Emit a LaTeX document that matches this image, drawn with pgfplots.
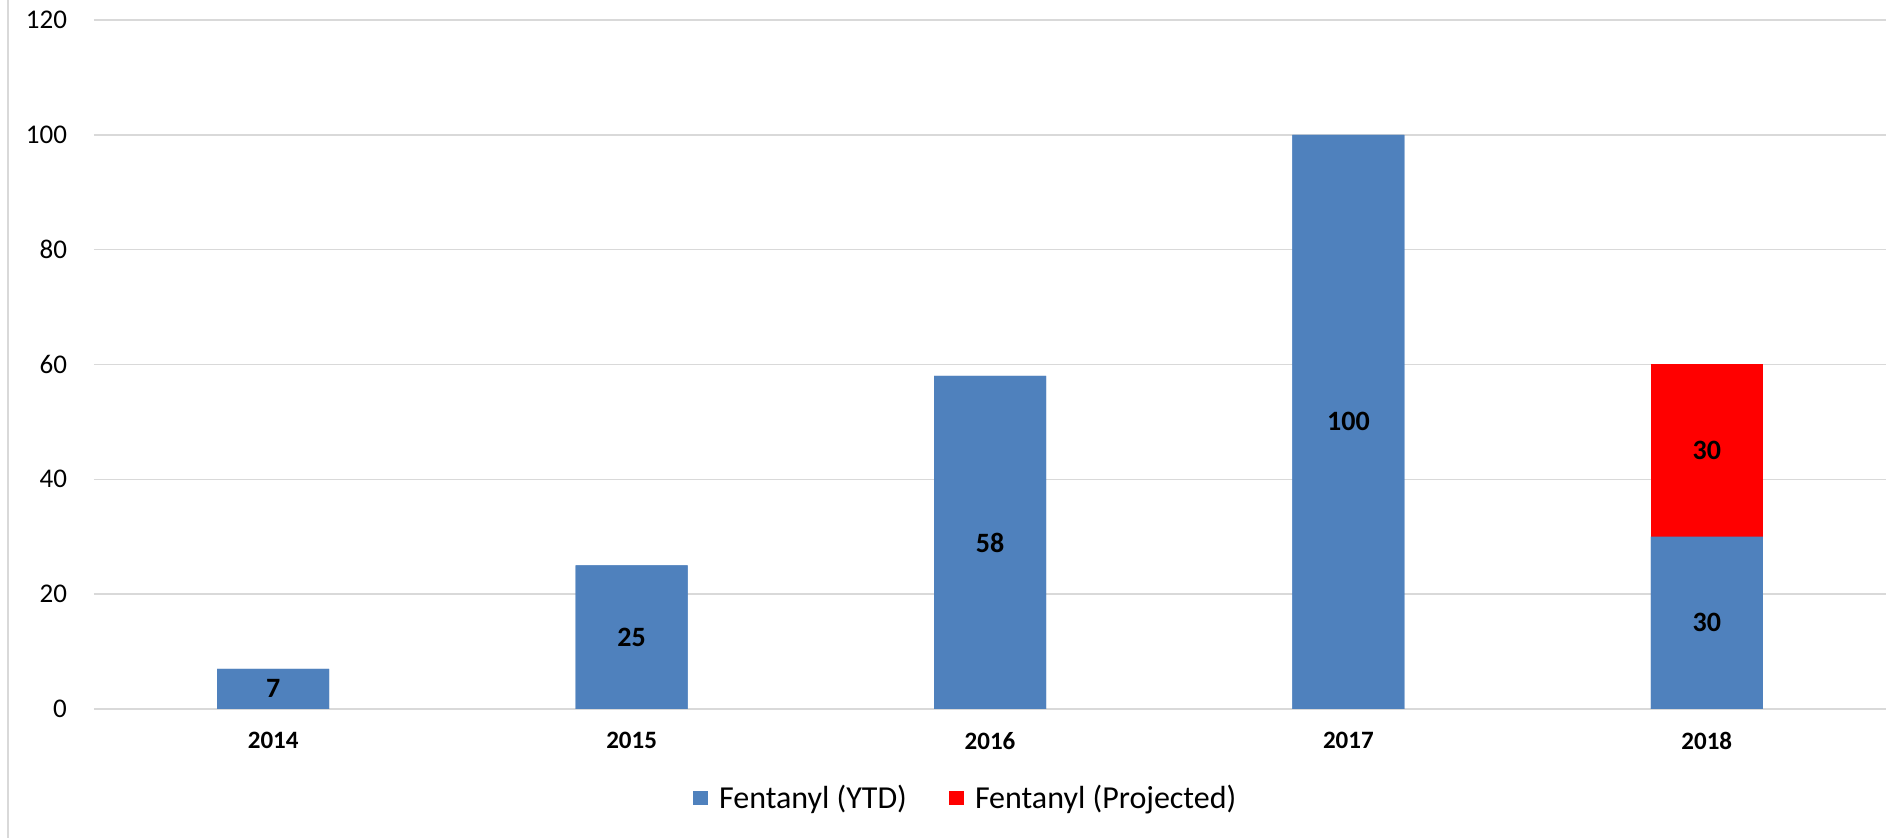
\documentclass[border=0pt]{standalone}
\usepackage{fontspec}
\setmainfont{Carlito}
\usepackage{pgfplots}
\usepackage{pgfplotstable}
\pgfplotsset{compat=1.18}
\definecolor{ytd}{HTML}{4F81BD}
\definecolor{proj}{HTML}{FF0000}
\definecolor{gridc}{HTML}{D9D9D9}

% YTD counts per year
\pgfplotstableread{
x ytd
0 7
1 25
2 58
3 100
4 30
}\ytd
% 2018: YTD + projected (total height of the stacked bar)
\pgfplotstableread{
x total
4 60
}\proj
% label positions (middle of each segment)
\pgfplotstableread{
x ymid lab
0 3.5 7
1 12.5 25
2 29 58
3 50 100
4 15 30
4 45 30
}\labs

\begin{document}
\begin{tikzpicture}
\useasboundingbox (-47pt,-64.5pt) rectangle (904pt,354.5pt);
\draw[gridc, line width=0.75pt] (-43pt,-64.5pt) -- (-43pt,354.5pt);
\begin{axis}[
  at={(0,0)}, anchor=south west,
  scale only axis, width=896pt, height=344.5pt,
  xmin=-0.5, xmax=4.5, ymin=0, ymax=120,
  xtick={0,...,4}, xticklabels={2014,2015,2016,2017,2018},
  ytick={0,20,...,120},
  axis line style={draw=none},
  major tick length=0pt,
  ymajorgrids, grid style={draw=gridc, line width=0.75pt},
  /pgf/number format/assume math mode=true,
  yticklabel style={font=\fontsize{13.5}{15}\selectfont, xshift=-10pt},
  xticklabel style={font=\fontsize{12.5}{15}\selectfont\bfseries, yshift=-8pt},
  legend columns=2,
  legend cell align=left,
  legend style={at={(0.487,-0.129)}, anchor=center, draw=none,
    font=\fontsize{16}{18}\selectfont,
    /tikz/every even column/.append style={column sep=19pt}},
  legend image code/.code={\fill[#1] (0pt,-3.6pt) rectangle (7.3pt,3.6pt);
    \path (11pt,0pt);},
]
\addplot[ybar, bar width=56pt, bar shift=0pt, fill=ytd, draw=none]
  table[x=x, y=ytd] {\ytd};
\addplot[ybar, bar width=56pt, bar shift=0pt, fill=proj, draw=none]
  table[x=x, y=total] {\proj};
% YTD part of 2018 drawn again over the red bar
\addplot[ybar, bar width=56pt, bar shift=0pt, fill=ytd, draw=none, forget plot]
  table[x=x, y=ytd] {\ytd};
\addplot[draw=none, mark=none, forget plot, point meta=explicit symbolic,
  nodes near coords,
  nodes near coords style={font=\fontsize{14}{16}\selectfont\bfseries, anchor=center, text=black}]
  table[x=x, y=ymid, meta=lab] {\labs};
\legend{Fentanyl (YTD),Fentanyl (Projected)}
\end{axis}
\end{tikzpicture}
\end{document}
